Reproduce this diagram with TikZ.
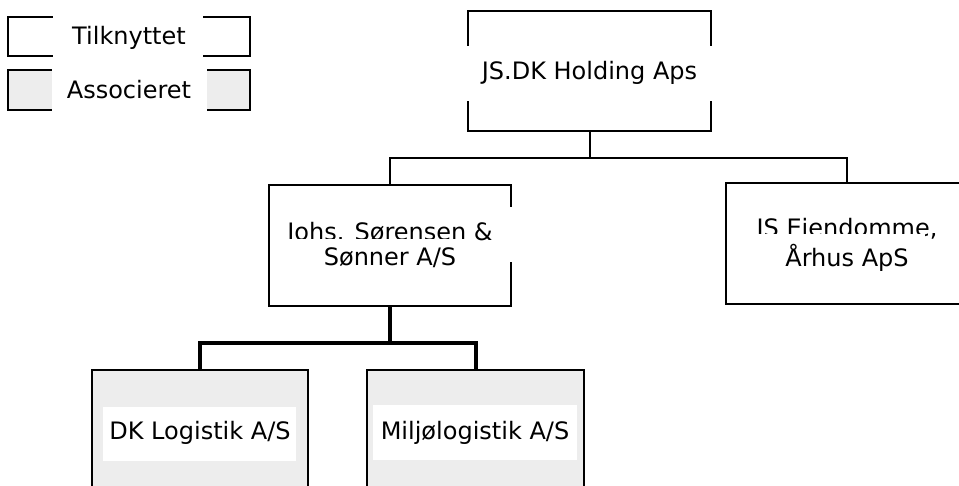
\documentclass[tikz,border=0pt]{standalone}
\usepackage{fontspec}
\setmainfont{DejaVu Sans}
\usetikzlibrary{positioning}
\definecolor{assocgray}{HTML}{EDEDED}
\tikzset{
    orgbox/.style={draw, line width=2pt, inner sep=0pt, minimum width=242pt, minimum height=121pt},
    assocbox/.style={orgbox, fill=assocgray},
    conn/.style={line width=2pt},
    thickconn/.style={line width=4pt},
    lbl/.style={anchor=base, inner sep=0pt, font=\fontsize{24}{29}\selectfont}
}
\begin{document}
\begin{tikzpicture}[x=1pt, y=-1pt]
    \clip (0, 0) rectangle (959, 486);

    % legend
    \node[orgbox, minimum height=39pt] at (129, 36.5) (tilk) {};
    \node[assocbox, minimum height=40pt] at (129, 90) (assoc) {};
    \fill[white] (53, 12) rectangle (203, 60);
    \fill[white] (52, 66) rectangle (207, 114);
    \node[lbl] at (129, 45) (tilktxt) {Tilknyttet};
    \node[lbl] at (129, 99) (assoctxt) {Associeret};

    % boxes
    \node[orgbox, minimum width=243pt, minimum height=120pt] at (589.5, 71) (hold) {};
    \node[orgbox] at (390, 245.5) (jobs) {};
    \node[orgbox] at (847, 243.5) (ejd) {};
    \node[assocbox, minimum width=216pt, minimum height=140pt] at (200, 440) (dklog) {};
    \node[assocbox, minimum width=217pt, minimum height=140pt] at (475.5, 440) (milj) {};

    % connectors
    \coordinate (bus) at (589.5, 158);
    \coordinate (thickbus) at (390, 343);
    \draw[conn] (hold.south) -- (bus) -| (jobs.north);
    \draw[conn] (bus) -| (ejd.north);
    \draw[thickconn] (jobs.south) -- (thickbus) -| (dklog.north);
    \draw[thickconn] (thickbus) -| (milj.north);

    % labels
    \fill[white] (462, 46) rectangle (717, 101);
    \node[lbl] at (589.5, 80) (holdtxt) {JS.DK Holding Aps};

    \fill[white] (280, 207) rectangle (515, 262);
    \node[lbl] at (390, 241) (jobsa) {Johs. Sørensen \&};
    \fill[white] (281, 239) rectangle (477, 280);
    \node[lbl] at (390, 266) (jobsb) {Sønner A/S};

    \node[lbl] at (847, 237) (ejda) {JS Ejendomme,};
    \fill[white] (740, 234) rectangle (925, 280);
    \node[lbl] at (847, 267) (ejdb) {Århus ApS};

    \fill[white] (103, 407) rectangle (296, 461);
    \node[lbl] at (200, 439) (dktxt) {DK Logistik A/S};
    \fill[white] (373, 405) rectangle (577, 460);
    \node[lbl] at (475, 439) (miljtxt) {Miljølogistik A/S};
\end{tikzpicture}
\end{document}
